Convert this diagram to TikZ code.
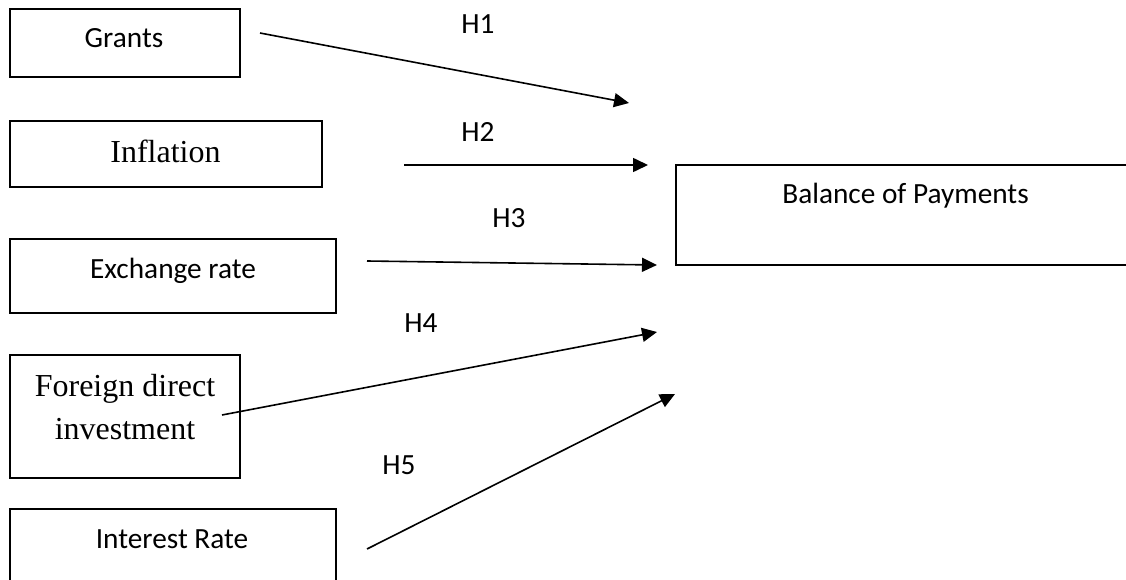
\documentclass[tikz,border=0pt]{standalone}
\usepackage{fontspec}
\usetikzlibrary{arrows.meta}
\newfontfamily\calfont{Carlito}
\newfontfamily\tmsfont{Liberation Serif}
\tikzset{
  boxstyle/.style={draw, line width=1.4pt},
  calib/.style={font=\calfont\fontsize{29.3}{35}\selectfont, inner sep=0pt, anchor=base},
  timesf/.style={font=\tmsfont\fontsize{32}{43}\selectfont, inner sep=0pt, align=center},
  arr/.style={line width=1.6pt, -{Triangle[length=15pt,width=14pt]}},
}
\begin{document}
\begin{tikzpicture}[x=1pt,y=-1pt]
\clip (0,0) rectangle (1126,580);
\fill[white] (0,0) rectangle (1126,580);
% boxes
\draw[boxstyle] (10,9) rectangle (240,77);
\draw[boxstyle] (10,121) rectangle (322,187);
\draw[boxstyle] (10,239) rectangle (336,313);
\draw[boxstyle] (10,355) rectangle (240,478);
\draw[boxstyle] (10,509) rectangle (336,620);
\draw[boxstyle] (676,165) rectangle (1160,265);
% texts
\node[calib] (grants) at (124,48) {Grants};
\node[timesf, anchor=base] (infl) at (165.5,163) {Inflation};
\node[calib] (exch) at (173,278) {Exchange rate};
\node[timesf] (fdi) at (125,407) {Foreign direct\\investment};
\node[calib] (intr) at (172,548) {Interest Rate};
\node[calib] (bop) at (905.5,204) {Balance of Payments};
% hypothesis labels
\node[calib] (h1) at (478,34) {H1};
\node[calib] (h2) at (478,142) {H2};
\node[calib] (h3) at (509,227) {H3};
\node[calib] (h4) at (421,332) {H4};
\node[calib] (h5) at (399,474) {H5};
% arrow ends
\coordinate (s1) at (260,33);  \coordinate (e1) at (629,103);
\coordinate (s2) at (404,165); \coordinate (e2) at (648,165);
\coordinate (s3) at (367,261); \coordinate (e3) at (657,265);
\coordinate (s4) at (222,415); \coordinate (e4) at (657,332);
\coordinate (s5) at (367,549); \coordinate (e5) at (675,394);
\draw[arr] (s1) -- (e1);
\draw[arr] (s2) -- (e2);
\draw[arr] (s3) -- (e3);
\draw[arr] (s4) -- (e4);
\draw[arr] (s5) -- (e5);
\end{tikzpicture}
\end{document}
